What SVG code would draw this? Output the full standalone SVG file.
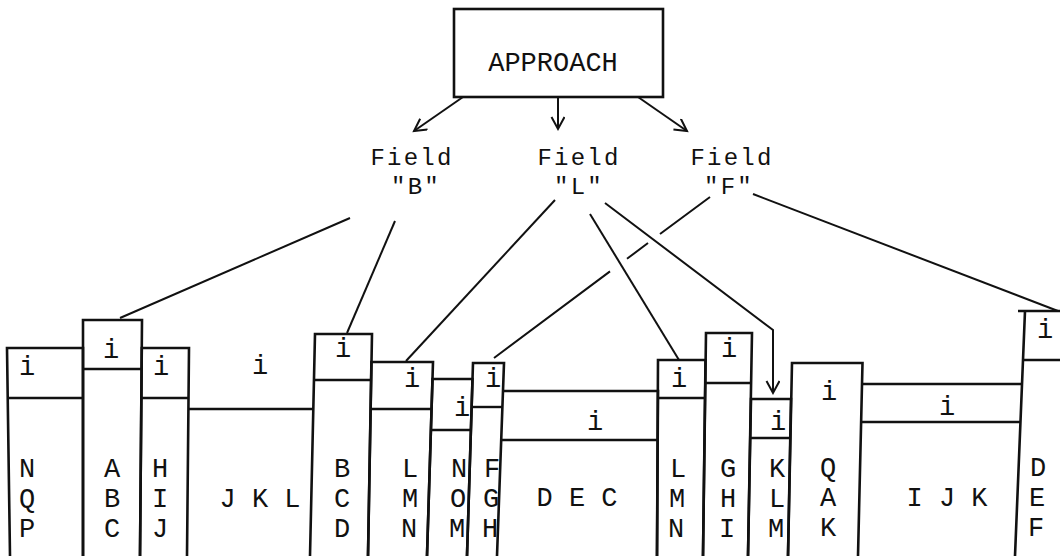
<svg xmlns="http://www.w3.org/2000/svg" width="1060" height="556" viewBox="0 0 1060 556">
<style>
text{font-family:"Liberation Mono","DejaVu Sans Mono",monospace;font-size:27px;fill:#111;text-anchor:middle}
.fl{font-size:24px;letter-spacing:2.2px}
.bar{fill:none;stroke:#111;stroke-width:2.6;stroke-linejoin:miter}
.div{fill:none;stroke:#111;stroke-width:2.4}
.con{fill:none;stroke:#111;stroke-width:2}
</style>
<defs>
<marker id="arr" markerUnits="userSpaceOnUse" markerWidth="20" markerHeight="20" refX="13" refY="7" orient="auto">
<path d="M1,0.5 L13,7 L1,13.5" fill="none" stroke="#111" stroke-width="2"/>
</marker>
</defs>
<rect width="1060" height="556" fill="#fff"/>

<g id="approach">
<rect x="454" y="9" width="209" height="88" fill="none" stroke="#111" stroke-width="2.6"/>
<text x="553" y="71">APPROACH</text>
</g>
<g id="fieldB"><text class="fl" x="412" y="165">Field</text><text class="fl" x="416" y="194">"B"</text></g>
<g id="fieldL"><text class="fl" x="579" y="165">Field</text><text class="fl" x="579" y="194">"L"</text></g>
<g id="fieldF"><text class="fl" x="732" y="165">Field</text><text class="fl" x="729" y="194">"F"</text></g>

<g id="connectors">
<path class="con" d="M463,97 L414,131" marker-end="url(#arr)"/>
<path class="con" d="M558,97 L558,129" marker-end="url(#arr)"/>
<path class="con" d="M638,97 L687,131" marker-end="url(#arr)"/>
<path class="con" d="M350,218 L120,318"/>
<path class="con" d="M395,221 L347,333"/>
<path class="con" d="M555,200 L406,361"/>
<path class="con" d="M590,214 L679,360"/>
<path class="con" d="M605,203 L773,330 L773,393" marker-end="url(#arr)"/>
<path class="con" d="M710,197 L660,234 M648,243 L627,258.8 M610,271.4 L494,358"/>
<path class="con" d="M753,194 L1058,311"/>
</g>

<g id="bar-NQP">
<path class="bar" d="M10,556 L7,348 L83,348 L83,556"/>
<path class="div" d="M7.5,398 L83,398"/>
<text x="27" y="375">i</text>
<text x="27" y="477">N<tspan x="27" y="507">Q</tspan><tspan x="27" y="537">P</tspan></text>
</g>
<g id="bar-ABC">
<path class="bar" d="M83,556 L83,320 L142,320 L140,556"/>
<path class="div" d="M83,369 L141.6,369"/>
<text x="111" y="358">i</text>
<text x="112" y="477">A<tspan x="112" y="507">B</tspan><tspan x="112" y="537">C</tspan></text>
</g>
<g id="bar-HIJ">
<path class="bar" d="M140,556 L141.8,348 L189,348 L187,556"/>
<path class="div" d="M141.6,398 L188.5,398"/>
<text x="161" y="375">i</text>
<text x="160" y="477">H<tspan x="160" y="507">I</tspan><tspan x="160" y="537">J</tspan></text>
</g>
<g id="bar-JKL">
<path class="div" d="M188.4,409 L314,409"/>
<text x="260" y="374">i</text>
<text x="260" y="507">J K L</text>
</g>
<g id="bar-BCD">
<path class="bar" d="M310,556 L315,334 L372,334 L368,556"/>
<path class="div" d="M314,380 L371,380"/>
<text x="343" y="357">i</text>
<text x="342" y="477">B<tspan x="342" y="507">C</tspan><tspan x="342" y="537">D</tspan></text>
</g>
<g id="bar-LMN">
<path class="bar" d="M368,556 L371.4,362 L433,362 L427,556"/>
<path class="div" d="M371,409 L431.5,409"/>
<text x="412" y="387">i</text>
<text x="410" y="477">L<tspan x="410" y="507">M</tspan><tspan x="409" y="537">N</tspan></text>
</g>
<g id="bar-NOM">
<path class="bar" d="M427,556 L432.5,379 L472.5,379 L467,556"/>
<path class="div" d="M431,430 L471,430"/>
<text x="462" y="416">i</text>
<text x="459" y="477">N<tspan x="458" y="507">O</tspan><tspan x="457" y="537">M</tspan></text>
</g>
<g id="bar-FGH">
<path class="bar" d="M467,556 L473,363 L504,363 L497,556"/>
<path class="div" d="M472,407 L503,407"/>
<text x="493" y="387">i</text>
<text x="492" y="477">F<tspan x="491" y="507">G</tspan><tspan x="490" y="537">H</tspan></text>
</g>
<g id="bar-DEC">
<path class="bar" d="M503,391 L658,391 L657,556"/>
<path class="div" d="M501.5,440 L657.5,440"/>
<text x="595" y="430">i</text>
<text x="577" y="506">D E C</text>
</g>
<g id="bar-LMN2">
<path class="bar" d="M657,556 L658,360 L705.5,360 L703,556"/>
<path class="div" d="M657.7,398 L705,398"/>
<text x="679" y="387">i</text>
<text x="678" y="477">L<tspan x="677" y="507">M</tspan><tspan x="676" y="537">N</tspan></text>
</g>
<g id="bar-GHI">
<path class="bar" d="M703,556 L706,333 L752,333 L748,556"/>
<path class="div" d="M705.5,383 L751,383"/>
<text x="729" y="357">i</text>
<text x="728" y="477">G<tspan x="728" y="507">H</tspan><tspan x="727" y="537">I</tspan></text>
</g>
<g id="bar-KLM">
<path class="bar" d="M748,556 L751,399 L791,399 L788,556"/>
<path class="div" d="M750.5,438 L790.5,438"/>
<text x="778" y="430">i</text>
<text x="777" y="477">K<tspan x="777" y="507">L</tspan><tspan x="776" y="537">M</tspan></text>
</g>
<g id="bar-QAK">
<path class="bar" d="M788,556 L792,363 L862.5,363 L858,556"/>
<text x="829" y="400">i</text>
<text x="828" y="476">Q<tspan x="828" y="506">A</tspan><tspan x="828" y="536">K</tspan></text>
</g>
<g id="bar-IJK">
<path class="bar" d="M862,384 L1023,384"/>
<path class="div" d="M861.5,422 L1021,422"/>
<text x="947" y="415">i</text>
<text x="947" y="506">I J K</text>
</g>
<g id="bar-DEF">
<path class="bar" d="M1015,556 L1025,311 M1018,311 L1062,311"/>
<path class="div" d="M1023,360 L1062,360"/>
<text x="1045" y="338">i</text>
<text x="1038" y="476">D<tspan x="1037" y="506">E</tspan><tspan x="1036" y="536">F</tspan></text>
</g>
</svg>
